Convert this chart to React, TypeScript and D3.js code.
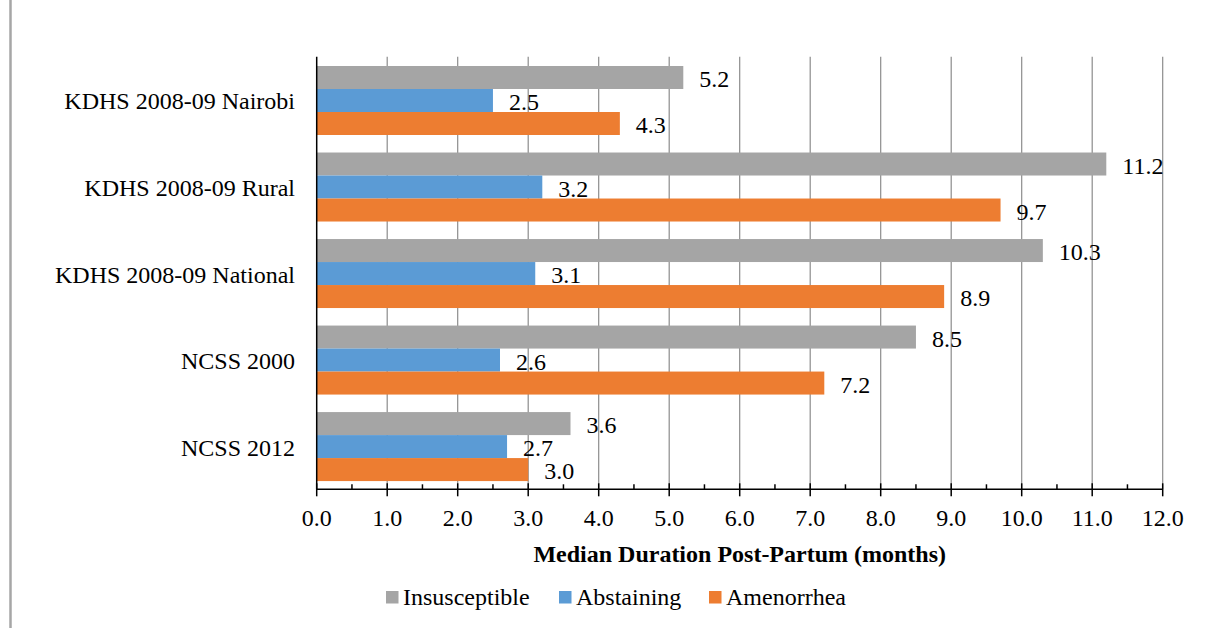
import React from "react";
import * as d3 from "d3";

const categories = [
  "KDHS 2008-09 Nairobi",
  "KDHS 2008-09 Rural",
  "KDHS 2008-09 National",
  "NCSS 2000",
  "NCSS 2012",
];
const seriesNames = ["Insusceptible", "Abstaining", "Amenorrhea"];
const insusceptible = [5.2, 11.2, 10.3, 8.5, 3.6];
const abstaining = [2.5, 3.2, 3.1, 2.6, 2.7];
const amenorrhea = [4.3, 9.7, 8.9, 7.2, 3.0];
const seriesValues = [insusceptible, abstaining, amenorrhea];
const colors = ["#A5A5A5", "#5B9BD5", "#ED7D31"];
const xTicks = d3.range(0, 12.01, 1);
const xMinorTicks = d3.range(0.5, 12, 1);
const axisTitle = "Median Duration Post-Partum (months)";

const W = 1205;
const H = 628;
const FONT = "'Liberation Serif', 'Times New Roman', serif";

export default function App() {
  const x0 = 316.7;
  const x1 = 1162.7;
  const yTop = 56.7;
  const yBot = 489.3;
  const x = d3.scaleLinear().domain([0, 12]).range([x0, x1]);
  const y = d3.scaleBand<string>().domain(categories).range([yTop, yBot]).padding(0);
  const inner = d3
    .scaleBand<string>()
    .domain(seriesNames)
    .range([9.3, 9.3 + 69])
    .padding(0);

  const legendItems = [
    { sq: 386, tx: 403 },
    { sq: 559, tx: 576 },
    { sq: 709, tx: 726 },
  ];

  return (
    <svg
      width={W}
      height={H}
      style={{ position: "absolute", left: 0, top: 0, background: "#fff" }}
      fontFamily={FONT}
    >
      <rect x={0} y={0} width={W} height={H} fill="#fff" />
      <line x1={10.5} x2={10.5} y1={0} y2={H} stroke="#A6A6A6" strokeWidth={2.5} />

      {/* gridlines */}
      {xTicks
        .filter((t) => t > 0)
        .map((t) => (
          <line
            key={"g" + t}
            x1={x(t)}
            x2={x(t)}
            y1={yTop}
            y2={yBot}
            stroke="#8C8C8C"
            strokeWidth={1.2}
          />
        ))}

      {/* bars */}
      {categories.map((c, ci) => (
        <g key={c} transform={`translate(0,${y(c)})`}>
          {seriesNames.map((s, si) => {
            const v = seriesValues[si][ci];
            const by = inner(s)!;
            const bh = inner.bandwidth();
            return (
              <g key={s}>
                <rect x={x(0)} y={by} width={x(v) - x(0)} height={bh} fill={colors[si]} />
                <text
                  x={x(v) + 16}
                  y={by + bh / 2 + 9.5}
                  fontSize={24}
                  fill="#000"
                >
                  {v.toFixed(1)}
                </text>
              </g>
            );
          })}
          <text
            x={295}
            y={inner("Abstaining")! + inner.bandwidth() / 2 + 9}
            fontSize={24}
            textAnchor="end"
            fill="#000"
          >
            {c}
          </text>
        </g>
      ))}

      {/* axes */}
      <line x1={x0} x2={x0} y1={yTop} y2={yBot} stroke="#000" strokeWidth={1.5} />
      <line x1={x0} x2={x1} y1={yBot} y2={yBot} stroke="#000" strokeWidth={1.5} />
      {xTicks.map((t) => (
        <g key={"t" + t}>
          <line x1={x(t)} x2={x(t)} y1={yBot - 6} y2={yBot + 7} stroke="#000" strokeWidth={1.5} />
          <text x={x(t)} y={526} fontSize={24} textAnchor="middle" fill="#000">
            {t.toFixed(1)}
          </text>
        </g>
      ))}
      {xMinorTicks.map((t) => (
        <line key={"m" + t} x1={x(t)} x2={x(t)} y1={yBot - 5} y2={yBot} stroke="#000" strokeWidth={1.5} />
      ))}
      <text
        x={(x0 + x1) / 2}
        y={562}
        fontSize={24}
        fontWeight="bold"
        textAnchor="middle"
        fill="#000"
      >
        {axisTitle}
      </text>

      {/* legend */}
      {seriesNames.map((s, i) => (
        <g key={"l" + s}>
          <rect x={legendItems[i].sq} y={591} width={12.5} height={12.5} fill={colors[i]} />
          <text x={legendItems[i].tx} y={605} fontSize={24} fill="#000">
            {s}
          </text>
        </g>
      ))}
    </svg>
  );
}
